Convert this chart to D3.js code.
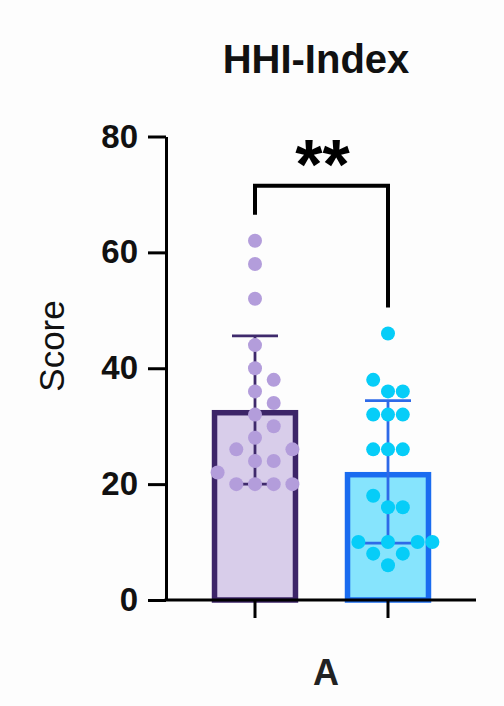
<!DOCTYPE html>
<html>
<head>
<meta charset="utf-8">
<script src="https://cdn.jsdelivr.net/npm/d3@7"></script>
<style>
  html, body { margin: 0; padding: 0; background: #fdfdfd; }
  svg { display: block; font-family: "Liberation Sans", Arial, Helvetica, sans-serif; }
</style>
</head>
<body>
<svg id="chart" width="504" height="706"></svg>
<script>
// ---- data ----
const title = "HHI-Index";
const yLabel = "Score";
const xLabel = "A";
const groups = ["G1", "G2"];
const means = [32.8, 22.1];
const sds = [12.8, 12.3];
const pointsG1 = [62, 58, 52, 44, 40, 38, 36, 34, 32, 30, 28, 26, 26, 24, 24, 22, 20, 20, 20, 20];
const pointsG2 = [46, 38, 36, 36, 32, 32, 32, 26, 26, 26, 18, 16, 16, 10, 10, 10, 10, 8, 8, 6];
const yTicks = [0, 20, 40, 60, 80];
const sigLabel = "**";

// ---- style ----
const fills = ["#d8cdea", "#86e4fd"];
const strokes = ["#3c2468", "#1a6cf0"];
const dotColors = ["#b39ddb", "#06cdf8"];
const errColors = ["#3f2a6c", "#2e6ae8"];
const dotStep = [18.7, 14.8];
const r = 7;

const svg = d3.select("#chart");

const y = d3.scaleLinear().domain([0, 80]).range([600, 136.5]);
const x = d3.scaleBand().domain(groups).range([188.5, 454.5])
  .paddingInner(0.35).paddingOuter(0.175);

// title
svg.append("text").attr("x", 316).attr("y", 73)
  .attr("text-anchor", "middle").attr("font-size", 40).attr("font-weight", "bold")
  .attr("fill", "#111").text(title);

// y axis
const yAxis = svg.append("g").attr("transform", "translate(166,0)")
  .call(d3.axisLeft(y).tickValues(yTicks).tickSize(18).tickSizeOuter(0).tickPadding(10));
yAxis.select(".domain").attr("stroke", "#000").attr("stroke-width", 3);
yAxis.selectAll(".tick line").attr("stroke", "#000").attr("stroke-width", 3);
yAxis.selectAll(".tick text").attr("font-size", 33).attr("font-weight", "bold")
  .attr("fill", "#111").attr("font-family", "Liberation Sans, Arial, sans-serif");

// y label
svg.append("text").attr("transform", "translate(64,346) rotate(-90)")
  .attr("text-anchor", "middle").attr("font-size", 35).attr("fill", "#111").text(yLabel);

// bars
const data = groups.map((g, i) => ({ g, i, mean: means[i], sd: sds[i] }));
const barStroke = 5.5;
svg.selectAll("rect.bar").data(data).enter().append("rect").attr("class", "bar")
  .attr("x", d => x(d.g) + barStroke / 2)
  .attr("width", x.bandwidth() - barStroke)
  .attr("y", d => y(d.mean) + barStroke / 2)
  .attr("height", d => y(0) - y(d.mean) - barStroke / 2)
  .attr("fill", d => fills[d.i]).attr("stroke", d => strokes[d.i])
  .attr("stroke-width", barStroke);

// error bars
const capW = 23;
data.forEach(d => {
  const cx = x(d.g) + x.bandwidth() / 2;
  const g = svg.append("g").attr("stroke", errColors[d.i]).attr("stroke-width", 2.8).attr("fill", "none");
  g.append("line").attr("x1", cx).attr("x2", cx).attr("y1", y(d.mean + d.sd)).attr("y2", y(d.mean - d.sd));
  g.append("line").attr("x1", cx - capW).attr("x2", cx + capW).attr("y1", y(d.mean + d.sd)).attr("y2", y(d.mean + d.sd));
  g.append("line").attr("x1", cx - capW).attr("x2", cx + capW).attr("y1", y(d.mean - d.sd)).attr("y2", y(d.mean - d.sd));
});

// dots: simple greedy beeswarm
function swarm(values, cx, step) {
  const placed = [];
  const sorted = values.map(v => v).sort((a, b) => a - b);
  const offsets = [0];
  for (let k = 1; k < 10; k++) { offsets.push(k, -k); }
  sorted.forEach(v => {
    const py = y(v);
    for (const o of offsets) {
      const px = cx + o * step;
      const ok = placed.every(p => Math.hypot(p.x - px, p.y - py) >= 2 * r - 0.5);
      if (ok) { placed.push({ x: px, y: py, v }); break; }
    }
  });
  return placed;
}
[pointsG1, pointsG2].forEach((pts, i) => {
  const cx = x(groups[i]) + x.bandwidth() / 2;
  const placed = swarm(pts, cx, dotStep[i]);
  svg.append("g").selectAll("circle").data(placed).enter().append("circle")
    .attr("cx", d => d.x).attr("cy", d => d.y).attr("r", r).attr("fill", dotColors[i]);
});

// x axis
const xAxis = svg.append("g").attr("transform", "translate(0,600)")
  .call(d3.axisBottom(x).tickSize(18).tickSizeOuter(0).tickFormat(""));
xAxis.select(".domain").remove();
xAxis.selectAll(".tick line").attr("stroke", "#000").attr("stroke-width", 3);
svg.append("line").attr("x1", 164.5).attr("x2", 476).attr("y1", 600).attr("y2", 600)
  .attr("stroke", "#000").attr("stroke-width", 3.2);

svg.append("text").attr("x", 326).attr("y", 685).attr("text-anchor", "middle")
  .attr("font-size", 36).attr("font-weight", "bold").attr("fill", "#222").text(xLabel);

// significance bracket
const c1 = x(groups[0]) + x.bandwidth() / 2;
const c2 = x(groups[1]) + x.bandwidth() / 2;
const yb = y(71.5);
svg.append("path")
  .attr("d", `M${c1},${y(66.5)} V${yb} H${c2} V${y(50.5)}`)
  .attr("fill", "none").attr("stroke", "#000").attr("stroke-width", 4);
svg.append("text").attr("x", (c1 + c2) / 2 + 1).attr("y", 189)
  .attr("text-anchor", "middle").attr("font-size", 70).attr("font-weight", "bold")
  .attr("fill", "#000").text(sigLabel);
</script>
</body>
</html>
